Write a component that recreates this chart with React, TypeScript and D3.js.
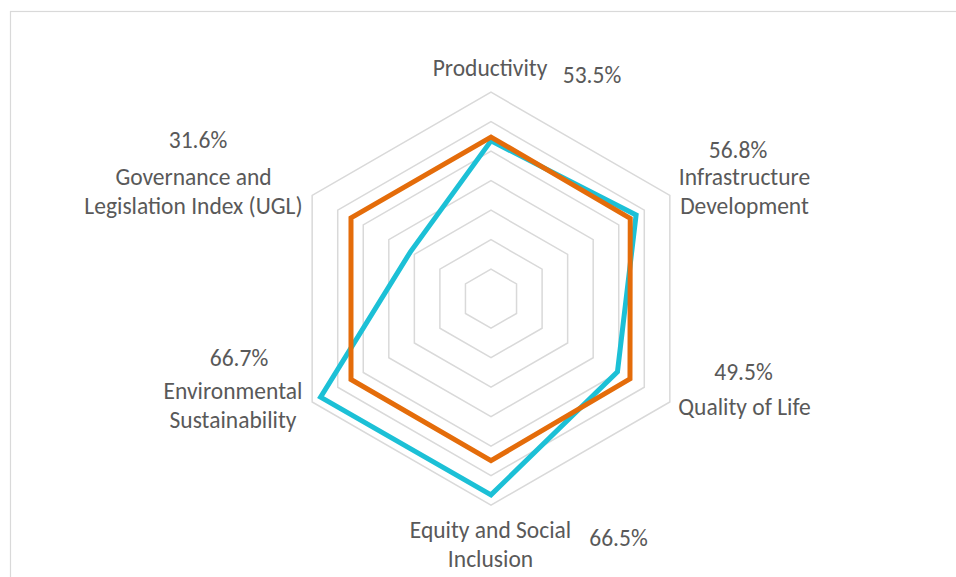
import React from "react";
import * as d3 from "d3";

const axes = [
  "Productivity",
  "Infrastructure Development",
  "Quality of Life",
  "Equity and Social Inclusion",
  "Environmental Sustainability",
  "Governance and Legislation Index (UGL)",
];
const axisLabelLines = [
  ["Productivity"],
  ["Infrastructure", "Development"],
  ["Quality of Life"],
  ["Equity and Social", "Inclusion"],
  ["Environmental", "Sustainability"],
  ["Governance and", "Legislation Index (UGL)"],
];
const cyanValues = [53.5, 56.8, 49.5, 66.5, 66.7, 31.6];
const orangeValues = [54.8, 54.5, 54.4, 54.9, 54.8, 54.8];
const valueLabels = ["53.5%", "56.8%", "49.5%", "66.5%", "66.7%", "31.6%"];
const gridTicks = [10, 20, 30, 40, 50, 60, 70];

// layout (text placement)
const catLabelPos: [number, number][] = [
  [490, 68],
  [744.5, 177],
  [744.5, 407],
  [490.5, 530],
  [233, 391],
  [193.5, 177],
];
const valLabelPos: [number, number][] = [
  [592, 75],
  [738, 150],
  [743.5, 372],
  [618.5, 538],
  [239, 358],
  [198, 140],
];

const W = 956;
const H = 577;
const cx = 491;
const cy = 298.7;
const R = 206.5;
const FONT = "Carlito, Calibri, Lato, sans-serif";
const TEXT = "#595959";

export default function App() {
  const r = d3.scaleLinear().domain([0, 70]).range([0, R]);
  const angle = (i: number) => (i * 2 * Math.PI) / axes.length;
  const radial = d3
    .lineRadial<number>()
    .angle((_, i) => angle(i))
    .radius((d) => r(d))
    .curve(d3.curveLinearClosed);

  return (
    <svg
      width={W}
      height={H}
      style={{ position: "absolute", left: 0, top: 0, background: "#fff" }}
    >
      <rect x={10.5} y={11.5} width={1000} height={1000} fill="#fff" stroke="#d9d9d9" strokeWidth={1.2} />
      <g transform={`translate(${cx},${cy})`}>
        {gridTicks.map((t) => (
          <path
            key={t}
            d={radial(axes.map(() => t)) || ""}
            fill="none"
            stroke="#d9d9d9"
            strokeWidth={1.5}
          />
        ))}
        <path d={radial(cyanValues) || ""} fill="none" stroke="#1cc0d6" strokeWidth={5} strokeLinejoin="miter" />
        <path d={radial(orangeValues) || ""} fill="none" stroke="#e46c0a" strokeWidth={5} strokeLinejoin="miter" />
      </g>
      <g fontFamily={FONT} fontSize={23.5} fill={TEXT} textAnchor="middle">
        {axisLabelLines.map((lines, i) =>
          lines.map((ln, j) => (
            <text
              key={`${i}-${j}`}
              x={catLabelPos[i][0]}
              y={catLabelPos[i][1] + j * 28.5}
              dominantBaseline="central"
            >
              {ln}
            </text>
          ))
        )}
        {valueLabels.map((v, i) => (
          <text key={v} x={valLabelPos[i][0]} y={valLabelPos[i][1]} dominantBaseline="central">
            {v}
          </text>
        ))}
      </g>
    </svg>
  );
}
